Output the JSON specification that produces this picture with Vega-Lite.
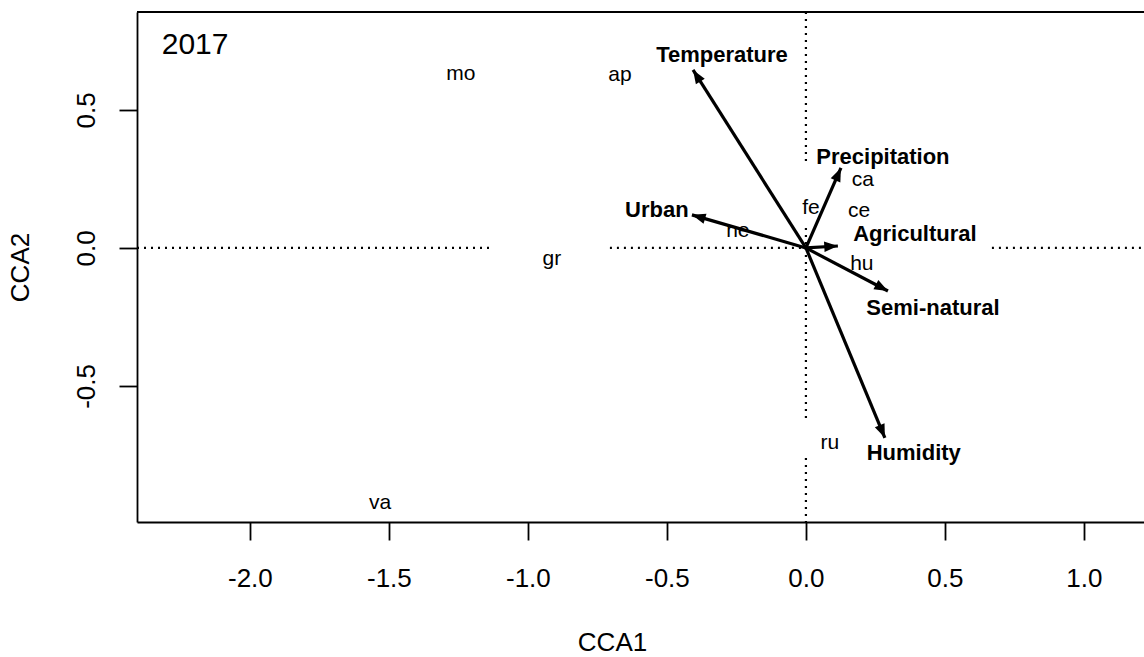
{
  "$schema": "https://vega.github.io/schema/vega-lite/v6.json",
  "width": 1007,
  "height": 510,
  "autosize": {"type": "none"},
  "padding": {"left": 137, "top": 12, "right": 0, "bottom": 135},
  "background": "white",
  "config": {
    "view": {"stroke": null},
    "font": "Liberation Sans",
    "axis": {"grid": false, "domainColor": "black", "domainWidth": 1.8, "tickColor": "black", "tickWidth": 1.8, "tickSize": 18, "labelColor": "black", "titleColor": "black", "labelFont": "Liberation Sans", "titleFont": "Liberation Sans", "labelFontSize": 26, "titleFontSize": 26, "titleFontWeight": "normal"}
  },
  "datasets": {
    "guides": [
      {"x": -2.406, "x2": -1.129, "y": 0, "y2": 0},
      {"x": -0.705, "x2": 0, "y": 0, "y2": 0},
      {"x": 0.669, "x2": 1.216, "y": 0, "y2": 0},
      {"x": 0, "x2": 0, "y": 0.855, "y2": 0.308},
      {"x": 0, "x2": 0, "y": 0.072, "y2": 0},
      {"x": 0, "x2": 0, "y": 0, "y2": -0.63},
      {"x": 0, "x2": 0, "y": -0.761, "y2": -0.993}
    ],
    "border": [
      {"x": -2.406, "x2": 1.216, "y": 0.855, "y2": 0.855}
    ],
    "env": [
      {"variable": "Temperature", "ox": 0, "oy": 0, "x": -0.406, "y": 0.645, "lx": -0.302, "ly": 0.699},
      {"variable": "Precipitation", "ox": 0, "oy": 0, "x": 0.126, "y": 0.29, "lx": 0.277, "ly": 0.33},
      {"variable": "Urban", "ox": 0, "oy": 0, "x": -0.41, "y": 0.12, "lx": -0.536, "ly": 0.138},
      {"variable": "Agricultural", "ox": 0, "oy": 0, "x": 0.115, "y": 0.007, "lx": 0.392, "ly": 0.051},
      {"variable": "Semi-natural", "ox": 0, "oy": 0, "x": 0.295, "y": -0.156, "lx": 0.457, "ly": -0.217},
      {"variable": "Humidity", "ox": 0, "oy": 0, "x": 0.284, "y": -0.688, "lx": 0.388, "ly": -0.743}
    ],
    "species": [
      {"sp": "mo", "x": -1.241, "y": 0.63},
      {"sp": "ap", "x": -0.669, "y": 0.627},
      {"sp": "ca", "x": 0.205, "y": 0.246},
      {"sp": "fe", "x": 0.018, "y": 0.145},
      {"sp": "ce", "x": 0.191, "y": 0.134},
      {"sp": "ne", "x": -0.245, "y": 0.062},
      {"sp": "hu", "x": 0.201, "y": -0.058},
      {"sp": "gr", "x": -0.914, "y": -0.04},
      {"sp": "ru", "x": 0.086, "y": -0.707},
      {"sp": "va", "x": -1.532, "y": -0.924}
    ],
    "panel": [
      {"label": "2017", "x": -2.317, "y": 0.735}
    ]
  },
  "layer": [
    {
      "data": {"name": "guides"},
      "mark": {"type": "rule", "color": "black", "strokeWidth": 2.2, "strokeDash": [2, 5]},
      "encoding": {
        "x": {"field": "x", "type": "quantitative", "scale": {"domain": [-2.406, 1.216], "nice": false, "zero": false},
          "axis": {"values": [-2, -1.5, -1, -0.5, 0, 0.5, 1], "labelExpr": "replace(format(datum.value, '.1f'), '−', '-')", "title": "CCA1", "labelPadding": 25, "titlePadding": 38, "titleX": 475, "labelFlush": false}},
        "x2": {"field": "x2"},
        "y": {"field": "y", "type": "quantitative", "scale": {"domain": [-0.993, 0.855], "nice": false, "zero": false},
          "axis": {"values": [-0.5, 0, 0.5], "labelExpr": "replace(format(datum.value, '.1f'), '−', '-')", "title": "CCA2", "labelAngle": -90, "labelAlign": "center", "labelBaseline": "alphabetic", "labelPadding": 25, "titlePadding": 40, "labelFlush": false}},
        "y2": {"field": "y2"}
      }
    },
    {
      "data": {"name": "border"},
      "mark": {"type": "rule", "color": "black", "strokeWidth": 1.8},
      "encoding": {
        "x": {"field": "x", "type": "quantitative"},
        "x2": {"field": "x2"},
        "y": {"field": "y", "type": "quantitative"},
        "y2": {"field": "y2"}
      }
    },
    {
      "data": {"name": "env"},
      "mark": {"type": "rule", "color": "black", "strokeWidth": 3.2},
      "encoding": {
        "x": {"field": "ox", "type": "quantitative"},
        "y": {"field": "oy", "type": "quantitative"},
        "x2": {"field": "x"},
        "y2": {"field": "y"}
      }
    },
    {
      "data": {"name": "env"},
      "transform": [{"calculate": "atan2(datum.x, datum.y) * 180 / PI", "as": "ang"}],
      "mark": {"type": "point", "shape": "M0,0 L0.5,1.3 L-0.5,1.3 Z", "filled": true, "color": "black", "opacity": 1, "size": 440},
      "encoding": {
        "x": {"field": "x", "type": "quantitative"},
        "y": {"field": "y", "type": "quantitative"},
        "angle": {"field": "ang", "type": "quantitative", "scale": null}
      }
    },
    {
      "data": {"name": "env"},
      "mark": {"type": "text", "font": "Liberation Sans", "fontWeight": "bold", "fontSize": 22, "color": "black", "align": "center", "baseline": "middle"},
      "encoding": {
        "x": {"field": "lx", "type": "quantitative"},
        "y": {"field": "ly", "type": "quantitative"},
        "text": {"field": "variable"}
      }
    },
    {
      "data": {"name": "species"},
      "mark": {"type": "text", "font": "Liberation Sans", "fontSize": 21, "color": "black", "align": "center", "baseline": "middle"},
      "encoding": {
        "x": {"field": "x", "type": "quantitative"},
        "y": {"field": "y", "type": "quantitative"},
        "text": {"field": "sp"}
      }
    },
    {
      "data": {"name": "panel"},
      "mark": {"type": "text", "font": "Liberation Sans", "fontSize": 30, "color": "black", "align": "left", "baseline": "middle"},
      "encoding": {
        "x": {"field": "x", "type": "quantitative"},
        "y": {"field": "y", "type": "quantitative"},
        "text": {"field": "label"}
      }
    }
  ]
}
